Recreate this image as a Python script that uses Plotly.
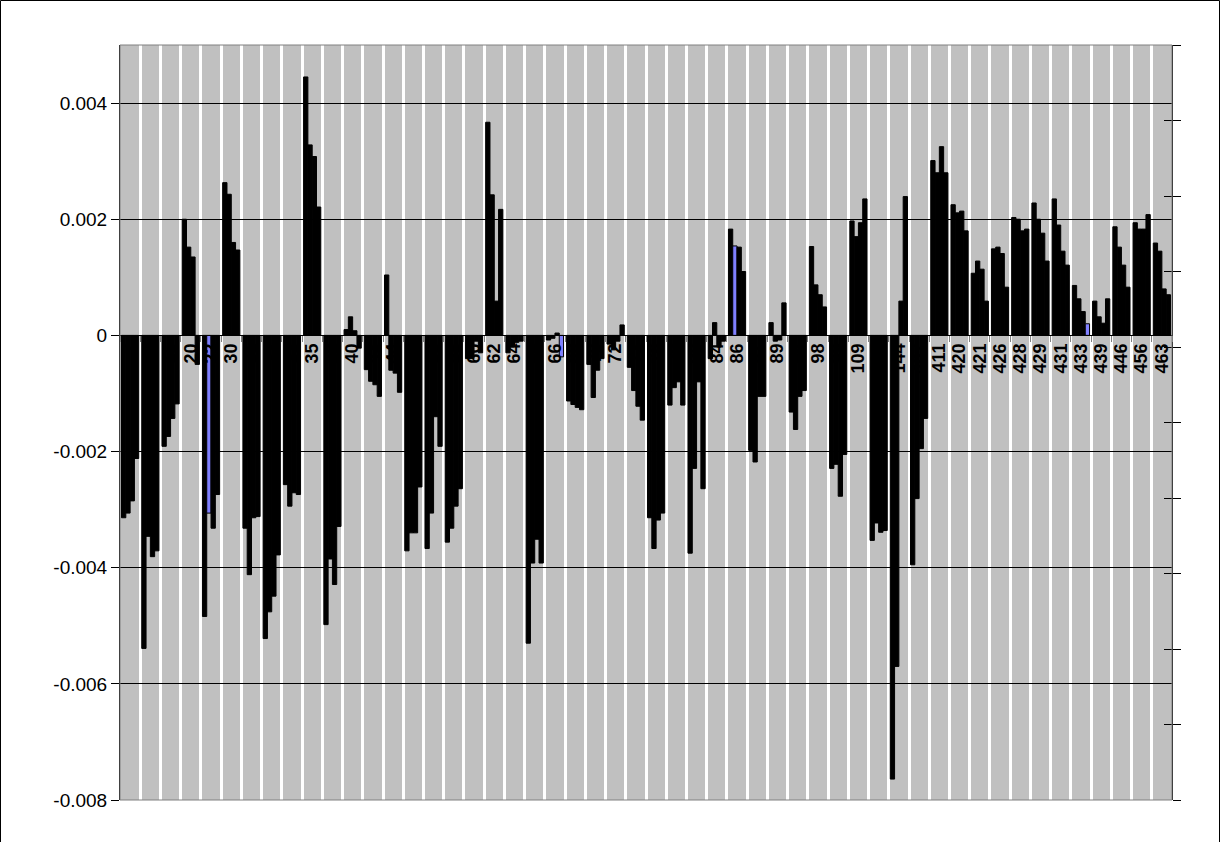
import plotly.graph_objects as go

# ---------------- data ----------------
categories = ["7", "10", "15", "20", "22", "30", "31", "32", "33", "35",
              "38", "40", "43", "44", "49", "53", "58", "60", "62", "64",
              "65", "66", "68", "70", "72", "73", "76", "79", "80", "84",
              "86", "87", "89", "94", "98", "99", "109", "125", "144", "407",
              "411", "420", "421", "426", "428", "429", "431", "433", "439", "446",
              "456", "463"]

series_1 = [-0.00314, -0.00539, -0.00191, 0.00200, -0.00484, 0.00263, -0.00332, -0.00522, -0.00257, 0.00445,
            -0.00498, 0.00010, -0.00059, 0.00104, -0.00371, -0.00367, -0.00356, -0.00040, 0.00367, -0.00030,
            -0.00530, -0.00008, -0.00113, -0.00050, -0.00015, -0.00055, -0.00314, -0.00120, -0.00375, -0.00040,
            0.00183, -0.00198, 0.00022, -0.00132, 0.00153, -0.00229, 0.00197, -0.00353, -0.00764, -0.00395,
            0.00301, 0.00225, 0.00107, 0.00149, 0.00203, 0.00228, 0.00235, 0.00086, 0.00059, 0.00187,
            0.00194, 0.00159]
series_2 = [-0.00306, -0.00346, -0.00174, 0.00152, -0.00306, 0.00243, -0.00412, -0.00476, -0.00294, 0.00328,
            -0.00385, 0.00032, -0.00079, -0.00060, -0.00340, -0.00306, -0.00332, -0.00040, 0.00242, -0.00020,
            -0.00392, -0.00005, -0.00119, -0.00107, -0.00025, -0.00095, -0.00367, -0.00090, -0.00229, 0.00022,
            0.00154, -0.00218, -0.00010, -0.00162, 0.00087, -0.00222, 0.00170, -0.00323, -0.00570, -0.00281,
            0.00280, 0.00211, 0.00128, 0.00152, 0.00200, 0.00200, 0.00190, 0.00063, 0.00032, 0.00152,
            0.00183, 0.00145]
series_3 = [-0.00285, -0.00381, -0.00143, 0.00135, -0.00332, 0.00160, -0.00314, -0.00449, -0.00271, 0.00308,
            -0.00429, 0.00008, -0.00085, -0.00065, -0.00340, -0.00140, -0.00294, -0.00010, 0.00059, -0.00012,
            -0.00351, 0.00004, -0.00124, -0.00060, -0.00010, -0.00122, -0.00318, -0.00080, -0.00080, -0.00020,
            0.00152, -0.00105, -0.00008, -0.00105, 0.00070, -0.00277, 0.00194, -0.00339, 0.00059, -0.00195,
            0.00325, 0.00214, 0.00114, 0.00141, 0.00180, 0.00176, 0.00145, 0.00041, 0.00021, 0.00121,
            0.00183, 0.00080]
series_4 = [-0.00212, -0.00371, -0.00118, -0.00050, -0.00274, 0.00147, -0.00312, -0.00378, -0.00274, 0.00221,
            -0.00329, -0.00022, -0.00105, -0.00098, -0.00261, -0.00191, -0.00264, -0.00030, 0.00217, -0.00010,
            -0.00392, -0.00037, -0.00128, -0.00040, 0.00018, -0.00146, -0.00306, -0.00120, -0.00264, -0.00010,
            0.00110, -0.00105, 0.00056, -0.00095, 0.00049, -0.00205, 0.00235, -0.00336, 0.00239, -0.00143,
            0.00280, 0.00180, 0.00059, 0.00083, 0.00183, 0.00128, 0.00121, 0.00020, 0.00063, 0.00083,
            0.00208, 0.00070]

series = [series_1, series_2, series_3, series_4]

# bars drawn with the lighter (blue) fill: (series index, category index)
highlighted = {(1, 4), (3, 21), (1, 30), (3, 47)}

y_tick_values = [-0.008, -0.006, -0.004, -0.002, 0, 0.002, 0.004]
y_tick_labels = ["-0.008", "-0.006", "-0.004", "-0.002", "0", "0.002", "0.004"]
y_range = [-0.008, 0.005]

# ---------------- styling ----------------
W, H = 1221, 842
ML, MR, MT, MB = 120, 49, 45, 42
BAR_COLOR = "#000000"
BLUE = "#8080FF"
BAND = "#C0C0C0"

fig = go.Figure()
for k, vals in enumerate(series):
    colors = [BLUE if (k, i) in highlighted else BAR_COLOR for i in range(len(categories))]
    fig.add_trace(go.Bar(
        x=categories, y=vals, name=f"Series {k + 1}",
        marker=dict(color=colors, line=dict(color="black", width=1)),
        hoverinfo="x+y",
    ))

# invisible helpers that carry the right-hand secondary axis
for ax in ("y2", "y3"):
    fig.add_trace(go.Scatter(x=[categories[0]], y=[0], yaxis=ax, mode="lines",
                             line=dict(width=0), showlegend=False, hoverinfo="skip"))

zero_pos = (0 - y_range[0]) / (y_range[1] - y_range[0])

fig.update_layout(
    width=W, height=H,
    margin=dict(l=ML, r=MR, t=MT, b=MB, pad=0),
    paper_bgcolor="white",
    plot_bgcolor=BAND,
    barmode="group", bargap=0.15, bargroupgap=0,
    showlegend=False,
    xaxis=dict(
        type="category", range=[-0.5, len(categories) - 0.5],
        tickmode="linear", tick0=0, dtick=1,
        anchor="free", position=zero_pos,
        tickson="boundaries", showgrid=True, gridcolor="white", gridwidth=3,
        showline=True, linecolor="black", linewidth=1,
        ticks="outside", ticklen=6, tickcolor="#808080",
        tickangle=-90,
        tickfont=dict(family="Liberation Sans, Arial, sans-serif", size=18, color="black", weight="bold"),
        zeroline=False,
    ),
    yaxis=dict(
        range=y_range, tickvals=y_tick_values, ticktext=y_tick_labels,
        showgrid=True, gridcolor="black", gridwidth=1,
        zeroline=True, zerolinecolor="black", zerolinewidth=1,
        showline=True, linecolor="black", linewidth=1,
        ticks="outside", ticklen=8, tickcolor="black",
        tickfont=dict(family="Liberation Sans, Arial, sans-serif", size=19, color="black"),
    ),
    yaxis2=dict(
        overlaying="y", side="right", range=[0, 10], tick0=0, dtick=1,
        showgrid=False, zeroline=False, showline=True, linecolor="black", linewidth=1,
        ticks="outside", ticklen=8, tickcolor="black", showticklabels=False,
    ),
    yaxis3=dict(
        overlaying="y", side="right", range=[0, 10], tick0=0, dtick=1,
        showgrid=False, zeroline=False, showline=False,
        ticks="inside", ticklen=8, tickcolor="black", showticklabels=False,
    ),
)

# plot-area border and outer chart border
pw, ph = W - ML - MR, H - MT - MB
fig.add_shape(type="rect", xref="paper", yref="paper", x0=0, x1=1, y0=0, y1=1,
              line=dict(color="#808080", width=1), fillcolor="rgba(0,0,0,0)", layer="above")
fig.add_shape(type="rect", xref="paper", yref="paper",
              x0=(0.5 - ML) / pw, x1=(W - 1.5 - ML) / pw,
              y0=(MB - H + 1.5) / ph, y1=(H - MB - 0.5) / ph,
              line=dict(color="black", width=1), fillcolor="rgba(0,0,0,0)", layer="above")

fig.write_html("out.html", config={"displayModeBar": False},
               post_script="document.body.style.margin='0';document.body.style.overflow='hidden';")
